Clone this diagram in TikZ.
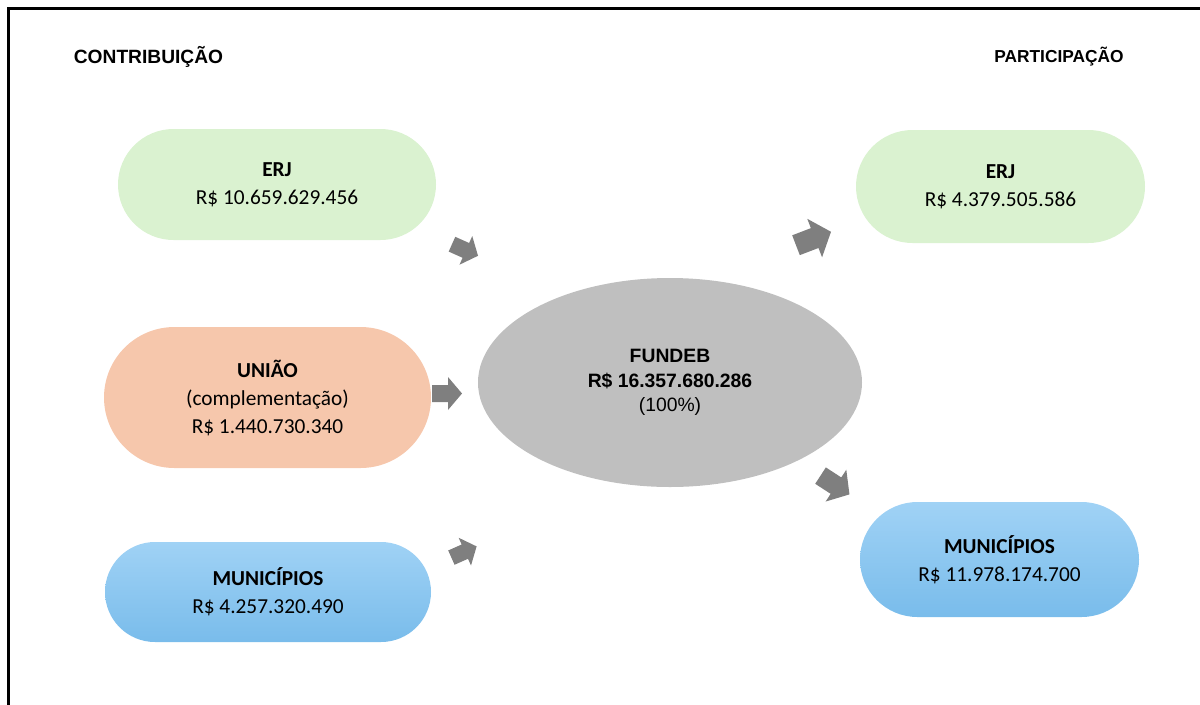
\documentclass[tikz,border=0pt]{standalone}
\usepackage{fontspec}
\setmainfont{Carlito}
\newfontfamily\arialfont{Liberation Sans}
\usetikzlibrary{shapes}

\definecolor{erjgreen}{HTML}{DAF2D0}
\definecolor{uniaopeach}{HTML}{F6C7AC}
\definecolor{muntop}{HTML}{A0D2F5}
\definecolor{munbottom}{HTML}{79BCEB}
\definecolor{fundebgray}{HTML}{BFBFBF}
\definecolor{arrowgray}{HTML}{7F7F7F}

% block arrow: centre, angle, size
\newcommand{\blockarrow}[3]{%
  \fill[arrowgray, shift={#1}, rotate=#2, scale=#3]
    (-15,-8.5) -- (1,-8.5) -- (1,-16.5) -- (15,0) -- (1,16.5) -- (1,8.5) -- (-15,8.5) -- cycle;}

\tikzset{
  valuebox/.style={rounded rectangle, align=center, inner sep=0pt,
    font=\fontsize{16}{21}\selectfont},
  heading/.style={font=\arialfont\bfseries\fontsize{14}{17}\selectfont, inner sep=0pt}
}

\begin{document}
\begin{tikzpicture}[x=0.75pt, y=-0.75pt]
\useasboundingbox (0,0) rectangle (1200,704);

% Frame
\draw[line width=2pt] (8.5,720) -- (8.5,8.5) -- (1215,8.5);

% Headings
\node[heading, font=\arialfont\bfseries\fontsize{14.4}{17}\selectfont] (contrib) at (148.5,57) {CONTRIBUIÇÃO};
\node[heading, font=\arialfont\bfseries\fontsize{13}{16}\selectfont] (partic) at (1059,57) {PARTICIPAÇÃO};

% Contribution
\node[valuebox, fill=erjgreen, minimum width=238.5pt, minimum height=83.25pt]
  (erjin) at (277,184.5) {\textbf{ERJ}\\R\$ 10.659.629.456};
\node[valuebox, fill=uniaopeach, minimum width=245.25pt, minimum height=105.75pt]
  (uniao) at (267.5,397.5) {\textbf{UNIÃO}\\(complementação)\\R\$ 1.440.730.340};
\node[valuebox, top color=muntop, bottom color=munbottom, minimum width=244.5pt, minimum height=75pt]
  (munin) at (268,592) {\textbf{MUNICÍPIOS}\\R\$ 4.257.320.490};

% Fund
\node[ellipse, fill=fundebgray, minimum width=288pt, minimum height=156.75pt, inner sep=0pt, align=center,
  font=\arialfont\fontsize{14.5}{18.5}\selectfont]
  (fundeb) at (670,382.5) {\textbf{FUNDEB}\\\textbf{R\$ 16.357.680.286}\\(100\%)};

% Participation
\node[valuebox, fill=erjgreen, minimum width=216.75pt, minimum height=84.75pt]
  (erjout) at (1000.5,186.5) {\textbf{ERJ}\\R\$ 4.379.505.586};
\node[valuebox, top color=muntop, bottom color=munbottom, minimum width=209.25pt, minimum height=86.25pt]
  (munout) at (999.5,559.5) {\textbf{MUNICÍPIOS}\\R\$ 11.978.174.700};

% Arrows
\blockarrow{(465,250)}{-24}{0.95}
\blockarrow{(447,393.5)}{0}{1}
\blockarrow{(464,552)}{24}{0.92}
\blockarrow{(813.5,238.5)}{21}{1.25}
\blockarrow{(835,485)}{-33}{1.15}
\end{tikzpicture}
\end{document}
